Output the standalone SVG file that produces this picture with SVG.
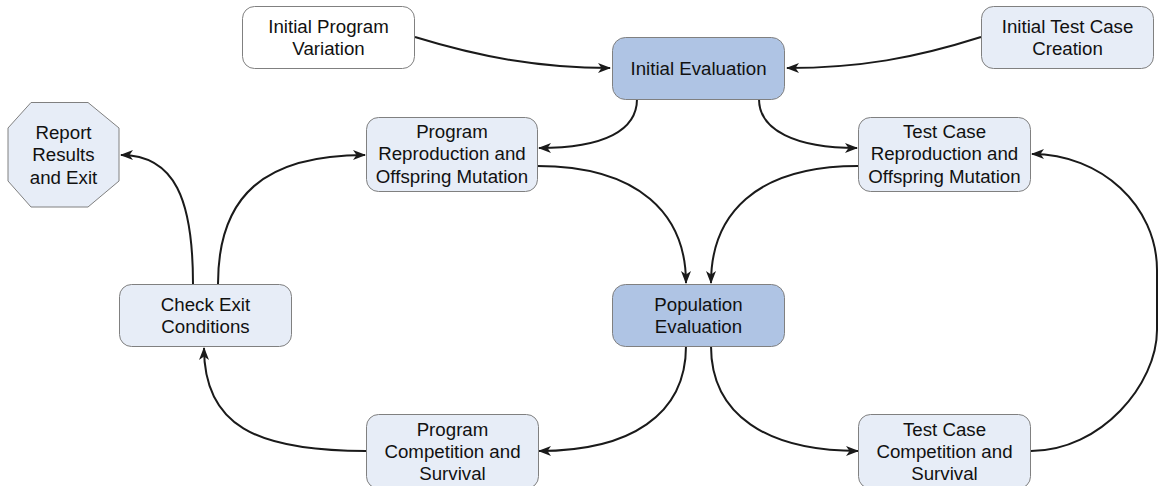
<svg xmlns="http://www.w3.org/2000/svg" width="1158" height="486" viewBox="0 0 1158 486">
<style>
.box{stroke:#808080;stroke-width:1}
.light{fill:#e7edf7}
.dark{fill:#afc4e4}
.white{fill:#ffffff}
text{font-family:"Liberation Sans",Arial,sans-serif;font-size:18.7px;fill:#111;text-anchor:middle}
.conn path{fill:none;stroke:#1a1a1a;stroke-width:2;marker-end:url(#arr)}
</style>
<defs>
<marker id="arr" viewBox="0 0 13 10" refX="12" refY="5" markerWidth="13" markerHeight="10" markerUnits="userSpaceOnUse" orient="auto">
<path d="M0,0 L13,5 L0,10 L3.5,5 Z" fill="#1a1a1a"/>
</marker>
</defs>
<g id="connectors" class="conn">
<path d="M415,37 C480,57 540,68 610,68"/>
<path d="M981,37 C915,58 860,68 787,68"/>
<path d="M637,99 C637,130 605,148 539,148"/>
<path d="M759,99 C759,130 795,148 857,148"/>
<path d="M537,166 C640,166 686,215 686,283"/>
<path d="M858,166 C755,166 711,215 711,283"/>
<path d="M686,346 C686,415 630,451 539,451"/>
<path d="M711,346 C711,415 767,451 858,451"/>
<path d="M1031,451 C1101,451 1157,384 1157,330 L1157,270 C1157,206 1101,154 1032,154"/>
<path d="M366,451 C255,451 204,425 204,348"/>
<path d="M193,284 C193,200 175,155 121,155"/>
<path d="M218,284 C218,195 265,155 365,155"/>
</g>
<g id="initial-program-variation">
<rect class="box white" x="242.5" y="6.5" width="172" height="62" rx="12"/>
<text x="328.5" y="32.5">Initial Program</text>
<text x="328.5" y="54.8">Variation</text>
</g>
<g id="initial-evaluation">
<rect class="box dark" x="612.5" y="37.5" width="172" height="62" rx="13"/>
<text x="698.5" y="75">Initial Evaluation</text>
</g>
<g id="initial-test-case-creation">
<rect class="box light" x="981.5" y="6.5" width="172" height="62" rx="12"/>
<text x="1067.5" y="32.5">Initial Test Case</text>
<text x="1067.5" y="54.8">Creation</text>
</g>
<g id="program-reproduction">
<rect class="box light" x="366.5" y="117.5" width="171" height="74" rx="12"/>
<text x="452" y="138">Program</text>
<text x="452" y="160.4">Reproduction and</text>
<text x="452" y="182.8">Offspring Mutation</text>
</g>
<g id="test-case-reproduction">
<rect class="box light" x="858.5" y="117.5" width="172" height="74" rx="12"/>
<text x="944.5" y="138">Test Case</text>
<text x="944.5" y="160.4">Reproduction and</text>
<text x="944.5" y="182.8">Offspring Mutation</text>
</g>
<g id="report-results">
<polygon class="box light" points="31,102.5 88,102.5 119,128 119,181 88,207 31,207 8,181 8,128"/>
<text x="63.5" y="138.5">Report</text>
<text x="63.5" y="161">Results</text>
<text x="63.5" y="183.5">and Exit</text>
</g>
<g id="check-exit-conditions">
<rect class="box light" x="119.5" y="284.5" width="172" height="62" rx="12"/>
<text x="205.5" y="310.5">Check Exit</text>
<text x="205.5" y="332.8">Conditions</text>
</g>
<g id="population-evaluation">
<rect class="box dark" x="612.5" y="284.5" width="172" height="62" rx="13"/>
<text x="698.5" y="310.5">Population</text>
<text x="698.5" y="332.8">Evaluation</text>
</g>
<g id="program-competition">
<rect class="box light" x="366.5" y="414.5" width="172" height="74" rx="12"/>
<text x="452.5" y="435.5">Program</text>
<text x="452.5" y="457.9">Competition and</text>
<text x="452.5" y="480.3">Survival</text>
</g>
<g id="test-case-competition">
<rect class="box light" x="858.5" y="414.5" width="172" height="74" rx="12"/>
<text x="944.5" y="435.5">Test Case</text>
<text x="944.5" y="457.9">Competition and</text>
<text x="944.5" y="480.3">Survival</text>
</g>
</svg>
